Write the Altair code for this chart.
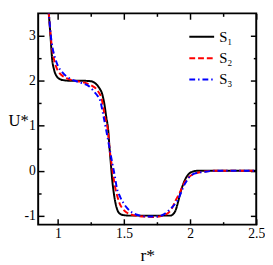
import altair as alt
import pandas as pd

# ---- data ----
r1 = [0.915, 0.93, 0.943, 0.955, 0.97, 0.99, 1.02, 1.05, 1.1, 1.2, 1.25, 1.28, 1.31, 1.335, 1.35, 1.365,
      1.38, 1.39, 1.40, 1.41, 1.42, 1.435, 1.45, 1.47, 1.50, 1.55, 1.85, 1.87, 1.89, 1.91, 1.93, 1.95,
      1.97, 1.99, 2.02, 2.06, 2.5]
u1 = [3.9, 3.5, 3.0, 2.5, 2.25, 2.1, 2.03, 2.01, 2.0, 2.0, 1.99, 1.95, 1.85, 1.7, 1.5, 1.2,
      0.9, 0.5, 0.15, -0.2, -0.45, -0.72, -0.88, -0.96, -0.99, -1.0, -1.0, -0.97, -0.88, -0.68, -0.45, -0.28,
      -0.15, -0.07, -0.02, 0.0, 0.0]

r2 = [0.915, 0.93, 0.948, 0.968, 0.985, 1.004, 1.03, 1.063, 1.1, 1.15, 1.2, 1.25, 1.3, 1.33, 1.355, 1.378,
      1.39, 1.404, 1.42, 1.433, 1.45, 1.465, 1.49, 1.52, 1.57, 1.65, 1.72, 1.78, 1.82, 1.86, 1.89, 1.92,
      1.948, 1.98, 2.01, 2.05, 2.1, 2.15, 2.2, 2.5]
u2 = [3.9, 3.5, 2.9, 2.5, 2.32, 2.2, 2.12, 2.06, 2.02, 1.99, 1.96, 1.9, 1.78, 1.6, 1.2, 0.88,
      0.5, 0.18, -0.15, -0.38, -0.58, -0.72, -0.85, -0.93, -0.99, -1.02, -1.03, -1.01, -0.97, -0.85, -0.66, -0.5,
      -0.31, -0.17, -0.10, -0.05, -0.02, -0.005, 0.0, 0.0]

r3 = [0.915, 0.93, 0.95, 0.98, 1.0, 1.03, 1.06, 1.09, 1.15, 1.2, 1.225, 1.25, 1.27, 1.29, 1.32, 1.345,
      1.366, 1.39, 1.41, 1.43, 1.445, 1.47, 1.495, 1.52, 1.56, 1.61, 1.68, 1.75, 1.8, 1.85, 1.9, 1.93,
      1.95, 1.98, 2.0, 2.05, 2.1, 2.15, 2.22, 2.5]
u3 = [3.9, 3.5, 2.9, 2.49, 2.33, 2.2, 2.11, 2.05, 1.98, 1.93, 1.9, 1.84, 1.77, 1.7, 1.55, 1.2,
      0.88, 0.5, 0.18, -0.12, -0.38, -0.58, -0.72, -0.82, -0.93, -0.99, -1.02, -1.02, -0.97, -0.85, -0.68, -0.5,
      -0.35, -0.2, -0.12, -0.05, -0.03, -0.01, 0.0, 0.0]

names = ["S\u2081", "S\u2082", "S\u2083"]
colors = ["black", "red", "blue"]
dashes = [[1, 0], [6, 3], [6, 3, 1.5, 3]]

x_major = [1, 1.5, 2, 2.5]
x_minor = [1.25, 1.75, 2.25]
y_major = [-1, 0, 1, 2, 3]
y_minor = [-0.5, 0.5, 1.5, 2.5]

rows = []
for nm, rs, us in zip(names, [r1, r2, r3], [u1, u2, u3]):
    for i, (a, b) in enumerate(zip(rs, us)):
        rows.append({"r": a, "U": b, "s": nm, "o": i})
df = pd.DataFrame(rows)

W, H = 224, 217
FONT = "Times New Roman, Liberation Serif, serif"

xs = alt.Scale(domain=[0.85, 2.5], nice=False, zero=False)
ys = alt.Scale(domain=[-1.2, 3.5], nice=False, zero=False)

lines = alt.Chart(df).mark_line(strokeWidth=2, clip=True, interpolate="monotone").encode(
    x=alt.X("r:Q", scale=xs, axis=alt.Axis(
        orient="bottom", values=x_major, labelExpr="'' + datum.value", ticks=False, domain=False,
        labelPadding=2, labelFontSize=14, labelFont=FONT, labelColor="black", labelFlush=False,
        title="r*", titleFont=FONT, titleFontSize=18, titleFontWeight="normal", titleColor="black",
        titleY=37, titleBaseline="alphabetic")),
    y=alt.Y("U:Q", scale=ys, axis=alt.Axis(
        orient="left", values=y_major, labelExpr="'' + datum.value", ticks=False, domain=False,
        labelPadding=3, labelFontSize=14, labelFont=FONT, labelColor="black",
        title="U*", titleFont=FONT, titleFontSize=17, titleFontWeight="normal", titleColor="black",
        titleAngle=0, titleX=-31, titleY=H / 2 + 2, titleAlign="left", titleBaseline="middle")),
    color=alt.Color("s:N", scale=alt.Scale(domain=names, range=colors), legend=alt.Legend(
        title=None, orient="none", legendX=154, legendY=10, symbolType="stroke", symbolSize=650,
        symbolStrokeWidth=2, labelFont=FONT, labelFontSize=15, labelColor="black", labelOffset=4,
        rowPadding=-8)),
    strokeDash=alt.StrokeDash("s:N", scale=alt.Scale(domain=names, range=dashes), legend=None),
    order="o:Q",
)


def tick_layer(xorient, yorient, xvals, yvals, size):
    return alt.Chart(df).mark_point(opacity=0, clip=True, size=1).encode(
        x=alt.X("r:Q", scale=xs, axis=alt.Axis(
            orient=xorient, offset=-H, values=xvals, labels=False, domain=False, grid=False,
            tickSize=size, tickWidth=1.5, tickColor="black", title=None)),
        y=alt.Y("U:Q", scale=ys, axis=alt.Axis(
            orient=yorient, offset=-W, values=yvals, labels=False, domain=False, grid=False,
            tickSize=size, tickWidth=1.5, tickColor="black", title=None)),
    )


chart = alt.layer(
    lines,
    tick_layer("top", "right", x_major, y_major, 6),
    tick_layer("bottom", "left", x_major, y_major, 6),
    tick_layer("top", "right", x_minor, y_minor, 3),
    tick_layer("bottom", "left", x_minor, y_minor, 3),
).resolve_axis(x="independent", y="independent").properties(
    width=W, height=H, padding={"left": 0, "top": 1, "right": 0, "bottom": 0}
).configure_view(stroke="black", strokeWidth=2).configure_axis(grid=False)

chart.save("out.html", embed_options={"renderer": "svg", "actions": False})
